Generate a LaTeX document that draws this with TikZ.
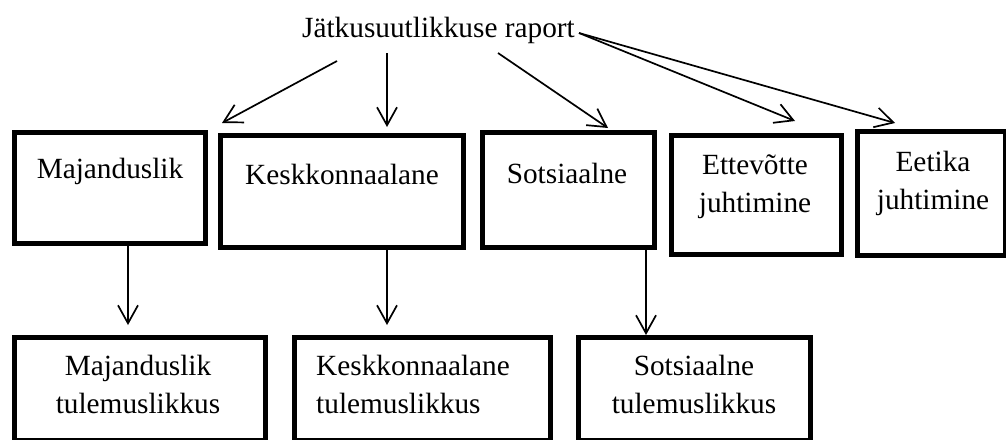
\documentclass[tikz,border=0pt]{standalone}
\usepackage{fontspec}
\setmainfont{Liberation Serif}
\usetikzlibrary{arrows.meta}
\begin{document}
\begin{tikzpicture}[x=1pt,y=-1pt,
  box/.style={draw,line width=4.8pt,rectangle,inner sep=0pt},
  lbl/.style={font=\fontsize{29.3}{38}\selectfont,inner sep=0pt,anchor=base},
  arr/.style={line width=1.7pt,-{Straight Barb[length=18pt,width=20pt,line width=1.7pt]}}]
\useasboundingbox (0,0) rectangle (1006,439);

% upper row of boxes
\node[box,minimum width=191.2pt,minimum height=111.2pt] (maj)  at (110,188)   {};
\node[box,minimum width=243.2pt,minimum height=112.2pt] (kesk) at (342,191.5) {};
\node[box,minimum width=172.2pt,minimum height=115.2pt] (sots) at (568.5,190) {};
\node[box,minimum width=170.2pt,minimum height=119.2pt] (ette) at (756.5,195) {};
\node[box,minimum width=148.2pt,minimum height=124.2pt] (eet)  at (931.5,193.5) {};

% lower row of boxes
\node[box,minimum width=251.2pt,minimum height=103.2pt] (majt)  at (140,389)   {};
\node[box,minimum width=256.2pt,minimum height=103.2pt] (keskt) at (422.5,389) {};
\node[box,minimum width=232.2pt,minimum height=103.2pt] (sotst) at (694.5,389) {};

% texts (two-line labels sit on the baseline of their last line)
\node[lbl] (title) at (438.5,37) {Jätkusuutlikkuse raport};
\node[lbl] (majL)  at (110,178) {Majanduslik};
\node[lbl] (keskL) at (342,184) {Keskkonnaalane};
\node[lbl] (sotsL) at (567,183) {Sotsiaalne};
\node[lbl,align=center] (etteL) at (755,212) {Ettevõtte\\juhtimine};
\node[lbl,align=center] (eetL)  at (933,209) {Eetika\\juhtimine};
\node[lbl,align=center] (majtL) at (138,413) {Majanduslik\\tulemuslikkus};
\node[lbl,align=left,anchor=base west] (kesktL) at (316,413) {Keskkonnaalane\\tulemuslikkus};
\node[lbl,align=center] (sotstL) at (694,413) {Sotsiaalne\\tulemuslikkus};

% arrow ends
\coordinate (t1) at (337,61);  \coordinate (e1) at (222,123);
\coordinate (t2) at (387,53);  \coordinate (e2) at (387,127);
\coordinate (t3) at (498,53);  \coordinate (e3) at (608,128);
\coordinate (t4) at (579,33);  \coordinate (e4) at (795,121);
\coordinate (e5) at (895,123);
\coordinate (b1) at (128,325);
\coordinate (b2) at (387,325);
\coordinate (b3) at (646,0);

\draw[arr] (t1) -- (e1);
\draw[arr] (t2) -- (e2);
\draw[arr] (t3) -- (e3);
\draw[arr] (t4) -- (e4);
\draw[arr] (t4) -- (e5);

\draw[arr] (maj.south -| b1) -- (b1);
\draw[arr] (kesk.south -| b2) -- (b2);
\draw[arr] (sots.south -| b3) -- (sotst.north -| b3);
\end{tikzpicture}
\end{document}
